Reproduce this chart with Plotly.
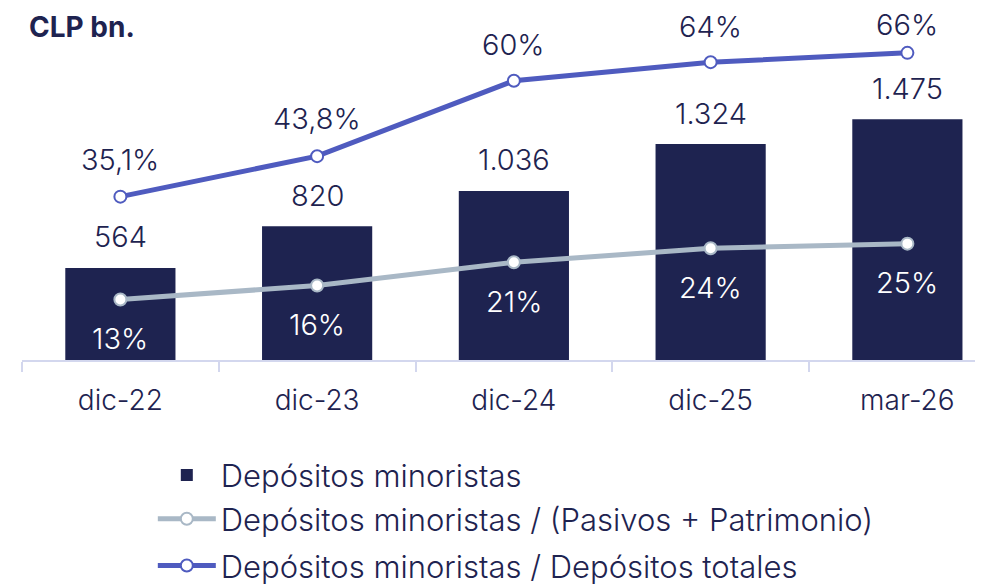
import plotly.graph_objects as go

categories = ["dic-22", "dic-23", "dic-24", "dic-25", "mar-26"]
depositos = [564, 820, 1036, 1324, 1475]
depositos_labels = ["564", "820", "1.036", "1.324", "1.475"]
ratio_pasivos = [13, 16, 21, 24, 25]
ratio_pasivos_labels = ["13%", "16%", "21%", "24%", "25%"]
ratio_totales = [35.1, 43.8, 60, 64, 66]
ratio_totales_labels = ["35,1%", "43,8%", "60%", "64%", "66%"]

NAVY = "#1e2350"
GRAY = "#a9b8c6"
PURPLE = "#4f5bbf"
AXIS = "#d3d7ee"
FONT = "Inter"

fig = go.Figure()
fig.add_trace(go.Bar(
    x=categories, y=depositos, name="Depósitos minoristas",
    marker=dict(color=NAVY, line=dict(width=0)), width=0.56, yaxis="y",
    legend="legend",
))
fig.add_trace(go.Scatter(
    x=categories, y=ratio_pasivos, name="Depósitos minoristas / (Pasivos + Patrimonio)",
    mode="lines+markers", yaxis="y2",
    line=dict(color=GRAY, width=5),
    marker=dict(size=12, color="white", line=dict(color=GRAY, width=2)),
    legend="legend2",
))
fig.add_trace(go.Scatter(
    x=categories, y=ratio_totales, name="Depósitos minoristas / Depósitos totales",
    mode="lines+markers", yaxis="y2",
    line=dict(color=PURPLE, width=5),
    marker=dict(size=12, color="white", line=dict(color=PURPLE, width=2)),
    legend="legend3",
))

LABEL_SIZE = 29
annotations = []
for c, v, t in zip(categories, depositos, depositos_labels):
    annotations.append(dict(x=c, y=v, xref="x", yref="y", text=t, showarrow=False,
                            yanchor="middle", yshift=31,
                            font=dict(family=FONT, size=LABEL_SIZE, color=NAVY, weight=300)))
for c, v, t in zip(categories, ratio_pasivos, ratio_pasivos_labels):
    annotations.append(dict(x=c, y=v, xref="x", yref="y2", text=t, showarrow=False,
                            yanchor="middle", yshift=-39,
                            font=dict(family=FONT, size=LABEL_SIZE, color="white", weight=300)))
shifts = [37, 38, 36, 36, 28]
for c, v, t, s in zip(categories, ratio_totales, ratio_totales_labels, shifts):
    annotations.append(dict(x=c, y=v, xref="x", yref="y2", text=t, showarrow=False,
                            yanchor="middle", yshift=s,
                            font=dict(family=FONT, size=LABEL_SIZE, color=NAVY, weight=300)))
annotations.append(dict(x=5/969, y=1, xref="paper", yref="paper", text="<b>CLP bn.</b>",
                        showarrow=False, xanchor="left", yanchor="top",
                        font=dict(family=FONT, size=28, color=NAVY)))

legend_common = dict(x=0.135, xanchor="left", yanchor="middle", orientation="v",
                     font=dict(family=FONT, size=31, color=NAVY, weight=300),
                     itemwidth=58, bgcolor="rgba(0,0,0,0)")

fig.update_layout(
    width=983, height=585,
    margin=dict(l=14, r=0, t=0, b=231),
    paper_bgcolor="white", plot_bgcolor="white",
    font=dict(family=FONT, size=28, color=NAVY, weight=300),
    showlegend=True,
    legend=dict(y=-0.3277, **legend_common),
    legend2=dict(y=-0.452, **legend_common),
    legend3=dict(y=-0.585, **legend_common),
    xaxis=dict(range=[-0.5, 4.425], showline=True, linecolor=AXIS, linewidth=2,
               ticks="outside", tickson="boundaries", ticklen=10, tickcolor=AXIS, tickwidth=2,
               showgrid=False, tickfont=dict(family=FONT, size=28, color=NAVY, weight=300),
               ticklabelstandoff=14),
    yaxis=dict(range=[0, 2157.6], visible=False, showgrid=False, zeroline=False),
    yaxis2=dict(range=[0, 75.64], overlaying="y", visible=False, showgrid=False, zeroline=False),
    annotations=annotations,
)

fig.write_html("out.html")
